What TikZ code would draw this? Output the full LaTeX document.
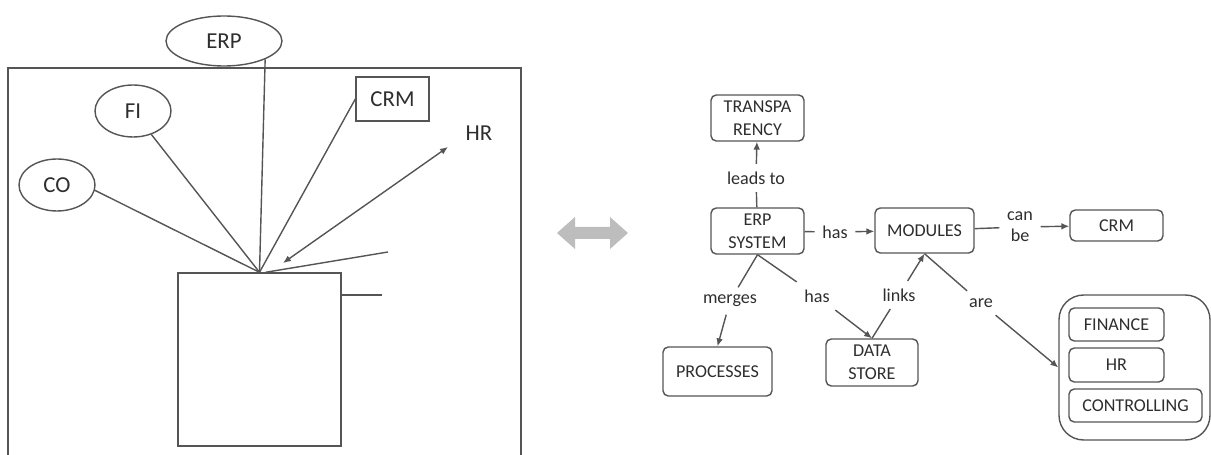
\documentclass[tikz,border=0pt]{standalone}
\usepackage{fontspec}
\setmainfont{Carlito}
\usepackage{tikz}
\usetikzlibrary{positioning,arrows.meta,calc,shapes.geometric}
\definecolor{cLine}{HTML}{555555}
\definecolor{cText}{HTML}{2e2e2e}
\definecolor{cArrow}{HTML}{bdbdbd}

\begin{document}
\begin{tikzpicture}[x=0.02cm,y=-0.02cm,line width=0.8pt,
    sketch/.style={draw=cLine,text=cText,inner sep=0pt,font=\fontsize{13}{15}\selectfont},
    oval/.style={sketch,ellipse},
    concept/.style={draw=cLine,text=cText,rounded corners=3pt,inner sep=0pt,align=center,
      font=\fontsize{10.3}{13}\selectfont},
    rel/.style={text=cText,inner sep=4pt,align=center,font=\fontsize{10.3}{12}\selectfont},
    link/.style={draw=cLine},
    arr/.style={draw=cLine,-{Latex[length=4.5pt,width=3.8pt]}}]
  \useasboundingbox (0,0) rectangle (1211,455);

  % left: the sketch
  \draw[cLine] (8,460) -- (8,68) -- (521,68) -- (521,460); % frame
  \node[sketch,minimum width=3.26cm,minimum height=3.46cm] (box) at (259.5,359.5) {};
  \node[oval,minimum width=2.32cm,minimum height=1.0cm] (erp) at (224,41) {ERP};
  \node[oval,minimum width=1.52cm,minimum height=1.04cm] (fi) at (133,111) {FI};
  \node[oval,minimum width=1.52cm,minimum height=1.04cm] (co) at (57,185) {CO};
  \node[sketch,minimum width=1.46cm,minimum height=0.88cm] (crm) at (392.5,99) {CRM};
  \node[text=cText,font=\fontsize{13}{15}\selectfont] (hr) at (479,133) {HR};
  \coordinate (hub) at (box.north);
  \coordinate (hrfoot) at (283,263);
  \coordinate (hrhead) at (448,147);
  \coordinate (stubA) at (388,252);
  \coordinate (stubB) at (382,295);
  \draw[link] (erp.-24) -- (hub);
  \draw[link] (fi.-52) -- (hub);
  \draw[link] (co.-8) -- (hub);
  \draw[link] (crm.west) -- (hub);
  \draw[link,{Latex[length=4.5pt,width=3.8pt]}-{Latex[length=4.5pt,width=3.8pt]}] (hrfoot) -- (hrhead);
  \draw[link] (stubA) -- ($(hub)+(6,0)$);
  \draw[link] (box.east |- stubB) -- (stubB);

  % middle: block arrow
  \fill[cArrow] (557,233) -- (575,217) -- (575,227) -- (610,227) -- (610,217) -- (628,233)
    -- (610,249) -- (610,239) -- (575,239) -- (575,249) -- cycle;

  % right: the concept map
  \node[concept,minimum width=1.86cm,minimum height=0.92cm] (transp) at (757.5,118) {TRANSPA\\RENCY};
  \node[concept,minimum width=1.86cm,minimum height=0.92cm] (erpsys) at (757.5,231) {ERP\\SYSTEM};
  \node[concept,minimum width=1.98cm,minimum height=0.9cm] (modules) at (924.5,230.5) {MODULES};
  \node[concept,minimum width=1.86cm,minimum height=0.62cm] (crmbox) at (1116.5,225.5) {CRM};
  \node[concept,minimum width=2.18cm,minimum height=0.98cm] (processes) at (717.5,371.5) {PROCESSES};
  \node[concept,minimum width=1.84cm,minimum height=0.94cm] (datastore) at (872,362.5) {DATA\\STORE};
  \node[concept,rounded corners=14pt,minimum width=3.02cm,minimum height=2.9cm] (kinds) at (1134.5,367.5) {};
  \node[concept,minimum width=1.9cm,minimum height=0.66cm] (finance) at (1116.5,324.5) {FINANCE};
  \node[concept,minimum width=1.9cm,minimum height=0.68cm] (hrbox) at (1116.5,365) {HR};
  \node[concept,minimum width=2.66cm,minimum height=0.66cm] (controlling) at (1135.5,405.5) {CONTROLLING};

  \node[rel] (leads) at (756,178) {leads to};
  \node[rel] (has) at (835,232) {has};
  \node[rel] (canbe) at (1020,227) {can\\be};
  \node[rel] (merges) at (730,301) {merges};
  \node[rel] (hastwo) at (817,296) {has};
  \node[rel] (links) at (899,295) {links};
  \node[rel] (are) at (981,303) {are};

  \draw[link] (erpsys) -- (leads);  \draw[arr] (leads) -- (transp);
  \draw[link] (erpsys) -- (has);    \draw[arr] (has) -- (modules);
  \draw[link] (modules) -- (canbe); \draw[arr] (canbe) -- (crmbox);
  \draw[link] (erpsys.south) -- (merges); \draw[arr] (merges) -- (processes.north);
  \draw[link] (erpsys.south) -- (hastwo); \draw[arr] (hastwo) -- (datastore.north);
  \draw[link] (datastore.north) -- (links); \draw[arr] (links) -- (modules.south);
  \draw[link] (modules.south) -- (are);   \draw[arr] (are) -- (kinds.west);
\end{tikzpicture}
\end{document}
